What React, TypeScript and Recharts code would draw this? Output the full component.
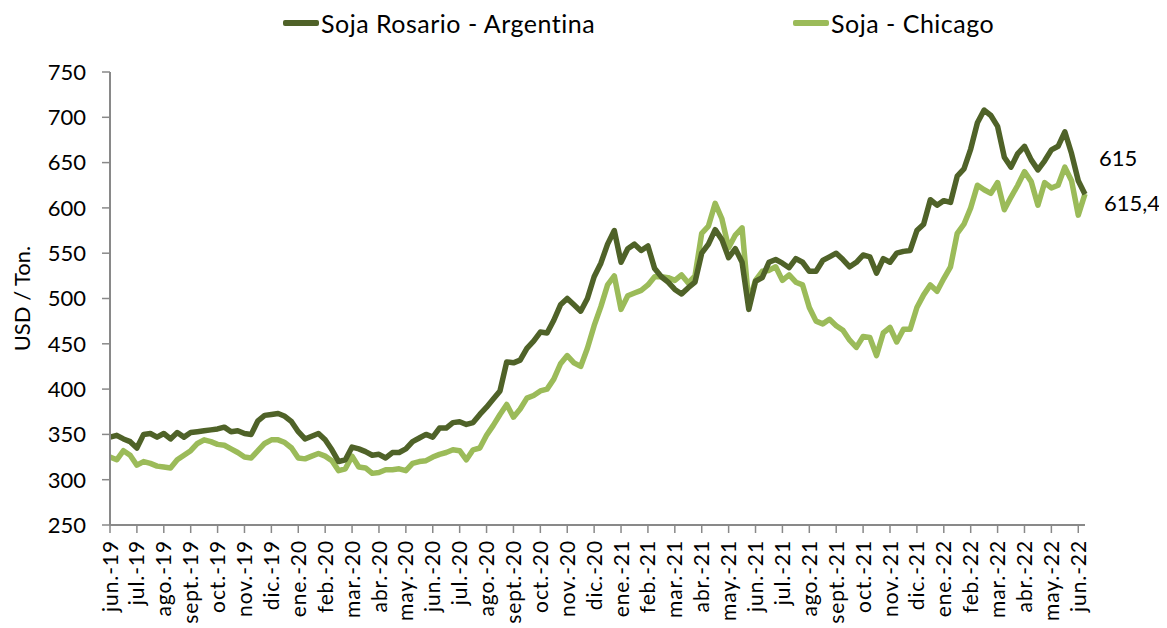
import React from 'react';
import { LineChart, Line, XAxis, YAxis, LabelList } from 'recharts';

const monthLabels = [
  'jun.-19', 'jul.-19', 'ago.-19', 'sept.-19', 'oct.-19', 'nov.-19', 'dic.-19',
  'ene.-20', 'feb.-20', 'mar.-20', 'abr.-20', 'may.-20', 'jun.-20', 'jul.-20',
  'ago.-20', 'sept.-20', 'oct.-20', 'nov.-20', 'dic.-20', 'ene.-21', 'feb.-21',
  'mar.-21', 'abr.-21', 'may.-21', 'jun.-21', 'jul.-21', 'ago.-21', 'sept.-21',
  'oct.-21', 'nov.-21', 'dic.-21', 'ene.-22', 'feb.-22', 'mar.-22', 'abr.-22',
  'may.-22', 'jun.-22',
];

// weekly-ish readings (4 per month), from jun.-19 to early jun.-22
const rosario = [
  347, 349, 345, 342, 335, 350, 351, 347, 351, 345, 352, 347,
  352, 353, 354, 355, 356, 358, 353, 354, 351, 350, 365, 371,
  372, 373, 370, 364, 353, 345, 348, 351, 344, 333, 320, 322,
  336, 334, 331, 327, 328, 324, 330, 330, 334, 342, 346, 350,
  347, 357, 357, 363, 364, 361, 363, 372, 380, 389, 398, 430,
  429, 432, 445, 453, 463, 462, 476, 493, 500, 493, 486, 500,
  524, 539, 560, 575, 540, 555, 560, 553, 558, 533, 524, 518,
  510, 505, 512, 518, 550, 560, 576, 565, 545, 555, 540, 488,
  519, 523, 540, 543, 539, 534, 544, 540, 530, 530, 542, 546,
  550, 543, 535, 540, 548, 546, 528, 544, 540, 550, 552, 553,
  575, 582, 609, 603, 608, 606, 635, 643, 665, 694, 708, 702,
  690, 656, 645, 660, 668, 653, 642, 652, 664, 668, 684, 660,
  630, 615,
];

const chicago = [
  325, 322, 332, 327, 316, 320, 318, 315, 314, 313, 322, 327,
  332, 340, 344, 342, 339, 338, 334, 330, 325, 324, 332, 340,
  344, 344, 341, 335, 324, 323, 326, 329, 326, 321, 310, 312,
  326, 314, 313, 307, 308, 311, 311, 312, 310, 318, 320, 321,
  325, 328, 330, 333, 332, 322, 333, 335, 349, 360, 372, 383,
  369, 378, 390, 393, 398, 400, 411, 428, 437, 429, 425, 445,
  470, 491, 515, 525, 488, 503, 506, 509, 515, 524, 524, 523,
  520, 526, 517, 525, 572, 580, 605, 588, 556, 570, 578, 495,
  520, 530, 531, 535, 520, 526, 518, 515, 490, 475, 472, 477,
  470, 465, 454, 446, 458, 457, 437, 462, 468, 452, 466, 466,
  490, 504, 515, 508, 522, 535, 572, 582, 600, 625, 620, 616,
  628, 598, 612, 625, 640, 629, 603, 628, 622, 625, 645, 630,
  592, 615.4,
];

const yTicks = [250, 300, 350, 400, 450, 500, 550, 600, 650, 700, 750];

const DARK = '#4F6228';
const LIGHT = '#9BBB59';
const AXIS = '#898989';
const FONT = 'Lato, "Open Sans", sans-serif';

const data = rosario.map((r, i) => ({ t: i / 4, rosario: r, chicago: chicago[i] }));
const monthTicks = monthLabels.map((_, i) => i);
const lastIndex = data.length - 1;

const XTick = (props: any) => {
  const { x, y, payload } = props;
  return (
    <g transform={`translate(${x},${y})`}>
      <text transform="rotate(-90)" textAnchor="end" dy="0.36em" fill="#000" fontSize={21} letterSpacing={0.9} fontFamily={FONT}>
        {monthLabels[payload.value]}
      </text>
    </g>
  );
};

const endLabel = (dx: number, dy: number) => (props: any) => {
  const { x, y, value, index } = props;
  if (index !== lastIndex) return null;
  return (
    <text x={x + dx} y={y + dy} dy="0.35em" fill="#000" fontSize={22} fontFamily={FONT}>
      {String(value).replace('.', ',')}
    </text>
  );
};

const LegendItem = ({ color, label, left }: { color: string; label: string; left: number }) => (
  <div style={{ position: 'absolute', top: 0, left, display: 'flex', alignItems: 'center', whiteSpace: 'nowrap' }}>
    <div style={{ width: 36, height: 6, background: color, borderRadius: 2, marginRight: 2 }} />
    <span style={{ fontSize: 25, fontFamily: FONT, color: '#000', letterSpacing: 0.5 }}>{label}</span>
  </div>
);

export default function App() {
  return (
    <div style={{ position: 'relative', width: 1159, height: 620 }}>
      <LegendItem color={DARK} label="Soja Rosario - Argentina" left={275} />
      <LegendItem color={LIGHT} label="Soja - Chicago" left={785} />
      <LineChart width={1159} height={620} data={data} margin={{ top: 64, right: 82, bottom: 0, left: 0 }}>
        <XAxis
          dataKey="t"
          type="number"
          domain={[0, 36.25]}
          ticks={monthTicks}
          interval={0}
          tick={<XTick />}
          tickSize={8}
          tickMargin={7}
          height={103}
          axisLine={{ stroke: AXIS, strokeWidth: 2 }}
          tickLine={{ stroke: AXIS, strokeWidth: 1.5 }}
        />
        <YAxis
          domain={[250, 750]}
          ticks={yTicks}
          interval={0}
          width={102}
          tickSize={8}
          tickMargin={16}
          axisLine={{ stroke: AXIS, strokeWidth: 2 }}
          tickLine={{ stroke: AXIS, strokeWidth: 1.5 }}
          tick={{ fill: '#000', fontSize: 22, fontFamily: FONT }}
          label={{ value: 'USD / Ton.', angle: -90, position: 'insideLeft', offset: 14, style: { fill: '#000', fontSize: 22, fontFamily: FONT, textAnchor: 'middle' } }}
        />
        <Line type="linear" dataKey="chicago" stroke={LIGHT} strokeWidth={5.5} dot={false} isAnimationActive={false} strokeLinejoin="round">
          <LabelList dataKey="chicago" content={endLabel(19, 9)} />
        </Line>
        <Line type="linear" dataKey="rosario" stroke={DARK} strokeWidth={5.5} dot={false} isAnimationActive={false} strokeLinejoin="round">
          <LabelList dataKey="rosario" content={endLabel(14, -36)} />
        </Line>
      </LineChart>
    </div>
  );
}
